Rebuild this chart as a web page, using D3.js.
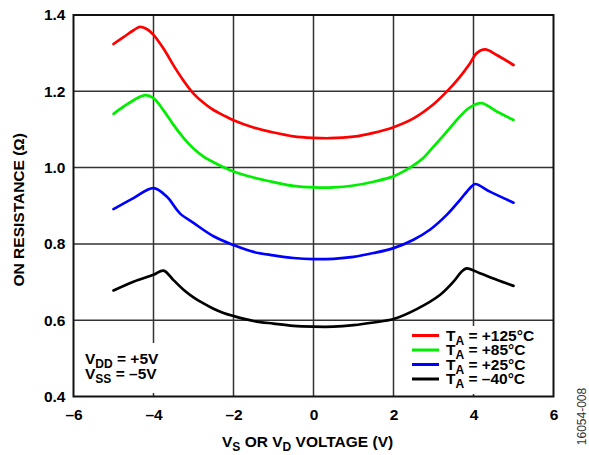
<!DOCTYPE html>
<html>
<head>
<meta charset="utf-8">
<script src="https://cdn.jsdelivr.net/npm/d3@7/dist/d3.min.js"></script>
<style>
  html, body { margin: 0; padding: 0; background: #fff; }
  svg { display: block; }
  text { font-family: "Liberation Sans", Arial, sans-serif; }
</style>
</head>
<body>
<svg id="chart" width="589" height="455"></svg>
<script>
// On resistance (Ω) versus source/drain voltage (V), VDD = +5 V, VSS = –5 V
const ron125 = [[-5,1.324],[-4.75,1.342],[-4.5,1.360],[-4.34,1.369],[-4.15,1.362],[-4,1.348],[-3.75,1.312],[-3.5,1.268],[-3.25,1.228],[-3,1.194],[-2.75,1.170],[-2.5,1.151],[-2.25,1.137],[-2,1.124],[-1.5,1.105],[-1,1.092],[-0.5,1.082],[0,1.078],[0.4,1.077],[1,1.081],[1.5,1.091],[2,1.106],[2.5,1.129],[3,1.166],[3.33,1.199],[3.66,1.238],[3.91,1.273],[4.08,1.300],[4.29,1.310],[4.58,1.295],[5,1.269]];
const ron85 = [[-5,1.141],[-4.6,1.170],[-4.21,1.190],[-4,1.182],[-3.75,1.150],[-3.5,1.112],[-3.25,1.078],[-3,1.050],[-2.75,1.029],[-2.5,1.014],[-2.25,1.001],[-2,0.990],[-1.5,0.974],[-1,0.962],[-0.5,0.952],[0,0.948],[0.5,0.948],[1,0.953],[1.5,0.963],[2,0.977],[2.25,0.990],[2.5,1.006],[2.75,1.026],[3,1.055],[3.33,1.094],[3.66,1.134],[3.91,1.158],[4.2,1.169],[4.58,1.147],[5,1.125]];
const ron25 = [[-5,0.891],[-4.5,0.920],[-4,0.946],[-3.67,0.924],[-3.34,0.880],[-3,0.855],[-2.5,0.820],[-2,0.797],[-1.5,0.779],[-1,0.770],[-0.5,0.763],[0,0.760],[0.5,0.761],[1,0.766],[1.5,0.776],[2,0.789],[2.5,0.811],[2.91,0.837],[3.33,0.876],[3.66,0.915],[3.91,0.946],[4.04,0.957],[4.41,0.937],[5,0.908]];
const ronM40 = [[-5,0.678],[-4.5,0.701],[-4,0.719],[-3.75,0.730],[-3.5,0.705],[-3.25,0.680],[-3,0.660],[-2.75,0.644],[-2.5,0.630],[-2.25,0.619],[-2,0.611],[-1.5,0.598],[-1,0.591],[-0.5,0.585],[0,0.583],[0.5,0.583],[1,0.587],[1.5,0.594],[2,0.603],[2.58,0.629],[3.16,0.666],[3.5,0.701],[3.7,0.727],[3.83,0.736],[4.16,0.723],[4.58,0.706],[5,0.690]];

const seriesNames = ["+125°C", "+85°C", "+25°C", "–40°C"];
const seriesColors = ["#ff0000", "#00ee00", "#0000ff", "#000000"];
const seriesData = [ron125, ron85, ron25, ronM40];

const xTicks = [-6, -4, -2, 0, 2, 4, 6];
const xTickLabels = ["–6", "–4", "–2", "0", "2", "4", "6"];
const yTicks = [0.4, 0.6, 0.8, 1.0, 1.2, 1.4];
const yTickLabels = ["0.4", "0.6", "0.8", "1.0", "1.2", "1.4"];

const svg = d3.select("#chart");
const plot = { left: 73.5, right: 553.5, top: 15, bottom: 396.5 };

const x = d3.scaleLinear().domain([-6, 6]).range([plot.left, plot.right]);
const y = d3.scaleLinear().domain([0.4, 1.4]).range([plot.bottom, plot.top]);

// grid
const grid = svg.append("g");
grid.selectAll("line.v").data(xTicks.slice(1, -1)).join("line")
  .attr("x1", d => x(d)).attr("x2", d => x(d))
  .attr("y1", plot.top).attr("y2", plot.bottom)
  .attr("stroke", "#333").attr("stroke-width", 1.5);
grid.selectAll("line.h").data(yTicks.slice(1, -1)).join("line")
  .attr("y1", d => y(d)).attr("y2", d => y(d))
  .attr("x1", plot.left).attr("x2", plot.right)
  .attr("stroke", "#333").attr("stroke-width", 1.5);

// white panels behind the notes and the legend
svg.append("rect").attr("x", 80).attr("y", 343).attr("width", 88).attr("height", 50).attr("fill", "#fff");
svg.append("rect").attr("x", 405).attr("y", 326).attr("width", 147).attr("height", 68).attr("fill", "#fff");

// curves
const line = d3.line().x(d => x(d[0])).y(d => y(d[1])).curve(d3.curveCatmullRom.alpha(0.5));
svg.append("g").selectAll("path").data(seriesData).join("path")
  .attr("d", line)
  .attr("fill", "none")
  .attr("stroke", (d, i) => seriesColors[i])
  .attr("stroke-width", 2.7)
  .attr("stroke-linejoin", "round")
  .attr("stroke-linecap", "round");

// frame
svg.append("rect")
  .attr("x", plot.left).attr("y", plot.top)
  .attr("width", plot.right - plot.left).attr("height", plot.bottom - plot.top)
  .attr("fill", "none").attr("stroke", "#111").attr("stroke-width", 2);

// axes (labels only, no tick marks)
const fontSize = 15.5;
const xAxis = d3.axisBottom(x).tickValues(xTicks).tickFormat((d, i) => xTickLabels[i]).tickSize(0).tickPadding(12);
const gx = svg.append("g").attr("transform", `translate(0,${plot.bottom})`).call(xAxis);
gx.select(".domain").remove();
gx.selectAll("text").attr("font-size", fontSize).attr("font-weight", "bold")
  .attr("font-family", "Liberation Sans, Arial, sans-serif").attr("fill", "#000");

const yAxis = d3.axisLeft(y).tickValues(yTicks).tickFormat((d, i) => yTickLabels[i]).tickSize(0).tickPadding(8);
const gy = svg.append("g").attr("transform", `translate(${plot.left},0)`).call(yAxis);
gy.select(".domain").remove();
gy.selectAll("text").attr("font-size", fontSize).attr("font-weight", "bold")
  .attr("font-family", "Liberation Sans, Arial, sans-serif").attr("fill", "#000");

// x title
(function () {
  const t = svg.append("text").attr("x", 222).attr("y", 447)
    .attr("font-size", fontSize).attr("font-weight", "bold").attr("fill", "#000");
  t.append("tspan").text("V");
  t.append("tspan").text("S").attr("font-size", 12).attr("dy", 4);
  t.append("tspan").text(" OR V").attr("dy", -4);
  t.append("tspan").text("D").attr("font-size", 12).attr("dy", 4);
  t.append("tspan").text(" VOLTAGE (V)").attr("dy", -4);
})();

// y title
svg.append("text")
  .attr("transform", `translate(24,${(plot.top + plot.bottom) / 2 + 4}) rotate(-90)`)
  .attr("text-anchor", "middle")
  .attr("font-size", fontSize).attr("font-weight", "bold").attr("fill", "#000")
  .text("ON RESISTANCE (Ω)");

// supply conditions
[["DD", "+5V", 364], ["SS", "–5V", 379]].forEach(([sub, val, yy]) => {
  const t = svg.append("text").attr("x", 85).attr("y", yy)
    .attr("font-size", fontSize).attr("font-weight", "bold").attr("fill", "#000");
  t.append("tspan").text("V");
  t.append("tspan").text(sub).attr("font-size", 12).attr("dy", 4);
  t.append("tspan").text(" = " + val).attr("dy", -4);
});

// legend
const legY = [335.5, 350, 364.5, 379];
const leg = svg.append("g");
seriesNames.forEach((name, i) => {
  leg.append("line")
    .attr("x1", 412).attr("x2", 439)
    .attr("y1", legY[i]).attr("y2", legY[i])
    .attr("stroke", seriesColors[i]).attr("stroke-width", 3);
  const t = leg.append("text").attr("x", 446).attr("y", legY[i] + 5)
    .attr("font-size", fontSize).attr("font-weight", "bold").attr("fill", "#000");
  t.append("tspan").text("T");
  t.append("tspan").text("A").attr("font-size", 12).attr("dy", 4);
  t.append("tspan").text(" = " + name).attr("dy", -4);
});

// figure code
svg.append("text")
  .attr("transform", "translate(586,416.5) rotate(-90)")
  .attr("text-anchor", "middle")
  .attr("font-size", 12).attr("fill", "#333")
  .text("16054-008");
</script>
</body>
</html>
